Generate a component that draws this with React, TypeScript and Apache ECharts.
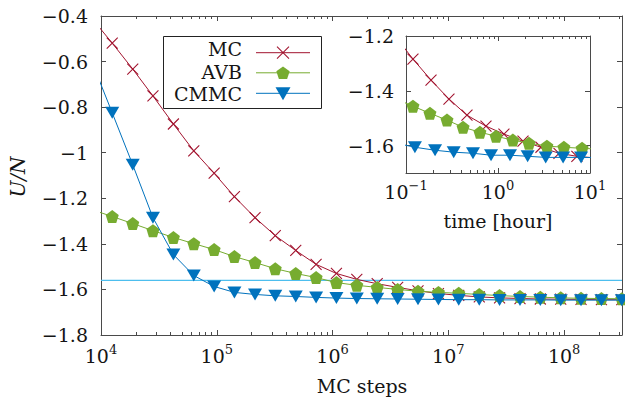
import React, { useEffect, useRef } from "react";
import * as echarts from "echarts";

// ---------- data ----------
// main plot: MC steps (x) and U/N (y)
const MAIN_STEPS = [8.33e3, 1.25e4, 1.88e4, 2.81e4, 4.22e4, 6.33e4, 9.49e4, 1.42e5, 2.14e5, 3.2e5, 4.81e5, 7.21e5, 1.08e6, 1.62e6, 2.43e6, 3.65e6, 5.47e6, 8.21e6, 1.23e7, 1.85e7, 2.77e7, 4.16e7, 6.23e7, 9.35e7, 1.4e8, 2.1e8, 3.15e8];
const MC_U = [-0.41, -0.519, -0.633, -0.751, -0.874, -0.992, -1.09, -1.193, -1.285, -1.364, -1.429, -1.49, -1.53, -1.556, -1.575, -1.591, -1.606, -1.618, -1.626, -1.633, -1.637, -1.64, -1.642, -1.643, -1.644, -1.645, -1.645];
const AVB_U = [-1.25, -1.28, -1.311, -1.342, -1.372, -1.399, -1.425, -1.456, -1.482, -1.509, -1.53, -1.548, -1.57, -1.582, -1.591, -1.6, -1.608, -1.613, -1.617, -1.622, -1.627, -1.631, -1.634, -1.637, -1.639, -1.64, -1.641];
const CMMC_U = [-0.6, -0.825, -1.053, -1.285, -1.447, -1.539, -1.587, -1.613, -1.622, -1.628, -1.631, -1.635, -1.638, -1.64, -1.641, -1.642, -1.643, -1.644, -1.645, -1.645, -1.646, -1.646, -1.646, -1.647, -1.647, -1.647, -1.647];
const REF_STEPS = [1e4, 3.1623e8];
const REF_U = [-1.56, -1.56];

// inset: time [hour] (x) and U/N (y)
const MC_TIME = [0.076, 0.119, 0.187, 0.293, 0.46, 0.74, 1.16, 1.87, 2.93, 4.6, 7.2, 11.3];
const MC_TIME_U = [-1.2, -1.284, -1.361, -1.43, -1.489, -1.529, -1.558, -1.584, -1.606, -1.628, -1.639, -1.645];
const AVB_TIME = [0.078, 0.119, 0.182, 0.279, 0.417, 0.636, 0.953, 1.45, 2.17, 3.4, 5.2, 8.2, 12.5];
const AVB_TIME_U = [-1.43, -1.456, -1.482, -1.507, -1.533, -1.551, -1.566, -1.58, -1.591, -1.602, -1.606, -1.61, -1.613];
const CMMC_TIME = [0.075, 0.125, 0.207, 0.33, 0.535, 0.84, 1.35, 2.1, 3.3, 5.1, 8.0, 12.6];
const CMMC_TIME_U = [-1.59, -1.606, -1.617, -1.624, -1.628, -1.635, -1.635, -1.639, -1.643, -1.643, -1.643, -1.644];

// tick labels
const MAIN_DECADES = [4, 5, 6, 7, 8];
const INSET_DECADES = [-1, 0, 1];
const MINOR_MULT = [2, 3, 4, 5, 6, 7, 8, 9];
const INSET_Y_TICKS = [-1.6, -1.4, -1.2];
const SERIES_NAMES = ["MC", "AVB", "CMMC"];

// ---------- styles ----------
const FONT = "DejaVu Serif";
const TXT = "#151515";
const AX = "#4a4a4a";
const MC_C = "#A2142F";
const AVB_C = "#77AC30";
const CMMC_C = "#0072BD";
const REF_C = "#4DBEEE";
const CROSS = "path://M0,0L10,10M10,0L0,10";
const PENTA = "path://M0,-10L9.51,-3.09L5.88,8.09L-5.88,8.09L-9.51,-3.09Z";

const minorTicks = (decades: number[], max: number) => {
  const out: number[] = [];
  decades.forEach((d) => MINOR_MULT.forEach((m) => {
    const v = d + Math.log10(m);
    if (v < max) out.push(v);
  }));
  return out;
};

const fmtMinus = (n: number) => (n < 0 ? "\u2212" + String(Math.abs(n)) : String(n));
const expLabel = (v: number) => `{b|10}{s|${fmtMinus(Math.round(v))}}`;
const yLabel = (v: number) => fmtMinus(Math.round(v * 10) / 10);

const richExp = {
  b: { fontFamily: FONT, fontSize: 19, lineHeight: 22, color: TXT, verticalAlign: "bottom" },
  s: { fontFamily: FONT, fontSize: 13, lineHeight: 13, color: TXT, verticalAlign: "top" },
};

function xHelpers(gridIndex: number, min: number, max: number, majors: number[], minors: number[], margin: number) {
  const base = { type: "value", gridIndex, min, max, splitLine: { show: false }, silent: true };
  const lineStyle = { color: AX, width: 1 };
  return [
    { ...base, position: "bottom", axisLine: { show: true, onZero: false, lineStyle },
      axisTick: { show: true, inside: true, length: 5, customValues: majors, lineStyle },
      axisLabel: { show: true, customValues: majors, formatter: expLabel, margin, rich: richExp } },
    { ...base, position: "bottom", axisLine: { show: false, onZero: false },
      axisTick: { show: true, inside: true, length: 3, customValues: minors, lineStyle }, axisLabel: { show: false } },
    { ...base, position: "top", axisLine: { show: true, onZero: false, lineStyle },
      axisTick: { show: true, inside: true, length: 5, customValues: majors, lineStyle }, axisLabel: { show: false } },
    { ...base, position: "top", axisLine: { show: false, onZero: false },
      axisTick: { show: true, inside: true, length: 3, customValues: minors, lineStyle }, axisLabel: { show: false } },
  ];
}

function mkSeries(name: string, xs: number[], ys: number[], color: string, kind: number, xi: number, yi: number) {
  const common: any = {
    type: "line", name, xAxisIndex: xi, yAxisIndex: yi,
    data: xs.map((x, i) => [x, ys[i]]),
    showAllSymbol: true, clip: true,
    lineStyle: { color, width: 1 },
    emphasis: { disabled: true }, silent: true,
  };
  if (kind === 0) {
    return { ...common, symbol: CROSS, symbolSize: 11, z: 13,
      itemStyle: { color: "rgba(0,0,0,0)", borderColor: color, borderWidth: 1.1 } };
  }
  if (kind === 1) {
    return { ...common, symbol: PENTA, symbolSize: 13, z: 14, itemStyle: { color, borderWidth: 0 } };
  }
  return { ...common, symbol: "triangle", symbolRotate: 180, symbolSize: [14, 12], z: 15,
    itemStyle: { color, borderWidth: 0 } };
}

function legendGraphics() {
  const items: any[] = [];
  items.push({ type: "rect", z: 50, shape: { x: 163.5, y: 36.5, width: 158, height: 72 },
    style: { fill: "#fff", stroke: "#222", lineWidth: 1 } });
  items.push({ type: "text", z: 51, x: 242, y: 71.5,
    style: { text: SERIES_NAMES.join("\n"), fontFamily: FONT, fontSize: 19, lineHeight: 22.5, fill: TXT, align: "right", verticalAlign: "middle" } });
  const markY = [52.7, 72.8, 93.3];
  const colors = [MC_C, AVB_C, CMMC_C];
  const cx = 283;
  SERIES_NAMES.forEach((_name, i) => {
    items.push({ type: "line", z: 51, shape: { x1: 256, y1: markY[i], x2: 310, y2: markY[i] },
      style: { stroke: colors[i], lineWidth: 1 } });
    const cy = markY[i];
    if (i === 0) {
      items.push({ type: "line", z: 52, shape: { x1: cx - 6, y1: cy - 6, x2: cx + 6, y2: cy + 6 }, style: { stroke: MC_C, lineWidth: 1.1 } });
      items.push({ type: "line", z: 52, shape: { x1: cx - 6, y1: cy + 6, x2: cx + 6, y2: cy - 6 }, style: { stroke: MC_C, lineWidth: 1.1 } });
    } else if (i === 1) {
      const pts: number[][] = [];
      for (let k = 0; k < 5; k++) {
        const a = (-90 + 72 * k) * Math.PI / 180;
        pts.push([cx + 7 * Math.cos(a), cy + 0.6 + 7 * Math.sin(a)]);
      }
      items.push({ type: "polygon", z: 52, shape: { points: pts }, style: { fill: AVB_C } });
    } else {
      items.push({ type: "polygon", z: 52, shape: { points: [[cx - 7.5, cy - 6], [cx + 7.5, cy - 6], [cx, cy + 7]] }, style: { fill: CMMC_C } });
    }
  });
  return items;
}

export default function App() {
  const ref = useRef<HTMLDivElement>(null);
  useEffect(() => {
    if (!ref.current) return;
    const chart = echarts.init(ref.current, null, { renderer: "svg" });
    const axLine = { color: AX, width: 1 };
    const yMain = { type: "value", gridIndex: 0, min: -1.8, max: -0.4, interval: 0.2, splitLine: { show: false } };
    const yInset = { type: "value", gridIndex: 1, min: -1.7, max: -1.2, splitLine: { show: false } };
    const option: any = {
      animation: false,
      backgroundColor: "#fff",
      textStyle: { fontFamily: FONT },
      grid: [
        { left: 101, top: 16, width: 521, height: 319, outerBoundsMode: "none", containLabel: false },
        { left: 406, top: 36, width: 184, height: 137, show: true, backgroundColor: "#fff", borderWidth: 0, outerBoundsMode: "none", containLabel: false },
      ],
      xAxis: [
        { type: "log", logBase: 10, gridIndex: 0, min: 1e4, max: 3.1623e8, show: false },
        ...xHelpers(0, 4, 8.5, MAIN_DECADES, minorTicks(MAIN_DECADES, 8.5), 8),
        { type: "log", logBase: 10, gridIndex: 1, min: 0.1, max: 10, show: false },
        ...xHelpers(1, -1, 1, INSET_DECADES, minorTicks([-1, 0], 1), 6),
      ],
      yAxis: [
        { ...yMain, position: "left", axisLine: { show: true, onZero: false, lineStyle: axLine },
          axisTick: { show: true, inside: true, length: 5, lineStyle: axLine },
          axisLabel: { show: true, margin: 13, fontSize: 19, fontFamily: FONT, color: TXT, formatter: yLabel } },
        { ...yMain, position: "right", axisLine: { show: true, onZero: false, lineStyle: axLine },
          axisTick: { show: true, inside: true, length: 5, lineStyle: axLine }, axisLabel: { show: false } },
        { ...yInset, position: "left", axisLine: { show: true, onZero: false, lineStyle: axLine },
          axisTick: { show: true, inside: true, length: 5, customValues: INSET_Y_TICKS, lineStyle: axLine },
          axisLabel: { show: true, customValues: INSET_Y_TICKS, margin: 12, fontSize: 19, fontFamily: FONT, color: TXT, formatter: yLabel } },
        { ...yInset, position: "right", axisLine: { show: true, onZero: false, lineStyle: axLine },
          axisTick: { show: true, inside: true, length: 5, customValues: INSET_Y_TICKS, lineStyle: axLine }, axisLabel: { show: false } },
      ],
      series: [
        { type: "line", name: "ref", xAxisIndex: 0, yAxisIndex: 0, data: REF_STEPS.map((x, i) => [x, REF_U[i]]),
          symbol: "none", lineStyle: { color: REF_C, width: 1.3 }, z: 11, silent: true },
        mkSeries("MC", MAIN_STEPS, MC_U, MC_C, 0, 0, 0),
        mkSeries("AVB", MAIN_STEPS, AVB_U, AVB_C, 1, 0, 0),
        mkSeries("CMMC", MAIN_STEPS, CMMC_U, CMMC_C, 2, 0, 0),
        mkSeries("MC", MC_TIME, MC_TIME_U, MC_C, 0, 5, 2),
        mkSeries("AVB", AVB_TIME, AVB_TIME_U, AVB_C, 1, 5, 2),
        mkSeries("CMMC", CMMC_TIME, CMMC_TIME_U, CMMC_C, 2, 5, 2),
      ],
      graphic: [
        ...legendGraphics(),
        { type: "text", x: 17.5, y: 177, rotation: Math.PI / 2, z: 10,
          style: { text: "U/N", fontFamily: FONT, fontSize: 20, fontStyle: "italic", fill: TXT, align: "center", verticalAlign: "middle" } },
        { type: "text", x: 362, y: 386, z: 10,
          style: { text: "MC steps", fontFamily: FONT, fontSize: 19, fill: TXT, align: "center", verticalAlign: "middle" } },
        { type: "text", x: 498, y: 221, z: 10,
          style: { text: "time [hour]", fontFamily: FONT, fontSize: 19, fill: TXT, align: "center", verticalAlign: "middle" } },
      ],
    };
    chart.setOption(option);
    return () => chart.dispose();
  }, []);
  return <div ref={ref} style={{ position: "fixed", left: 0, top: 0, width: 625, height: 401, background: "#fff" }} />;
}
